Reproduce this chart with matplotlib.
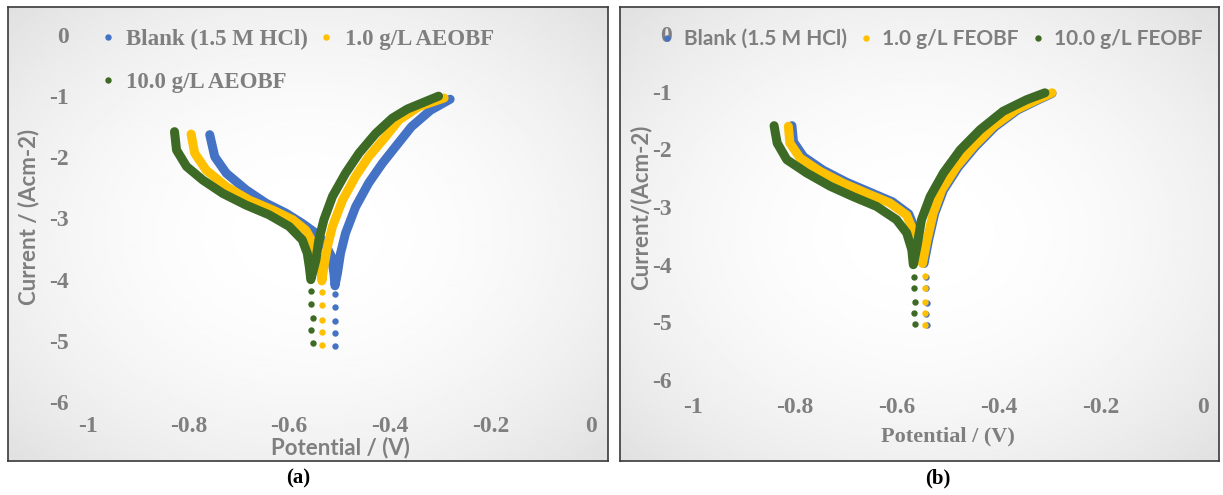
import numpy as np
import matplotlib
matplotlib.use('Agg')
from matplotlib import pyplot as plt

# Tafel data: E (V) and log current
# panel (a): AEOBF
a_blank_E = [-0.758, -0.748, -0.725, -0.686, -0.646, -0.607, -0.574, -0.547, -0.531, -0.516, -0.511, -0.509,
             -0.504, -0.498, -0.488, -0.468, -0.442, -0.415, -0.389, -0.357, -0.319, -0.280]
a_blank_I = [-1.63, -1.99, -2.26, -2.53, -2.75, -2.91, -3.08, -3.24, -3.38, -3.62, -3.90, -4.10,
             -3.89, -3.57, -3.24, -2.81, -2.42, -2.10, -1.83, -1.50, -1.23, -1.05]
a_blank_dotE = [-0.509, -0.509, -0.508, -0.508, -0.509]
a_blank_dotI = [-4.23, -4.44, -4.67, -4.87, -5.08]

a_low_E = [-0.795, -0.788, -0.765, -0.725, -0.679, -0.633, -0.593, -0.567, -0.554, -0.547, -0.537, -0.535,
           -0.531, -0.524, -0.514, -0.494, -0.468, -0.442, -0.408, -0.382, -0.342, -0.292]
a_low_I = [-1.62, -1.93, -2.21, -2.48, -2.70, -2.86, -3.02, -3.19, -3.38, -3.57, -3.79, -4.02,
           -3.79, -3.46, -3.13, -2.70, -2.31, -1.99, -1.66, -1.39, -1.17, -1.03]
a_low_dotE = [-0.535, -0.535, -0.534, -0.534, -0.534]
a_low_dotI = [-4.20, -4.41, -4.66, -4.85, -5.06]

a_high_E = [-0.828, -0.824, -0.804, -0.772, -0.732, -0.686, -0.640, -0.600, -0.574, -0.564, -0.560, -0.557,
            -0.547, -0.541, -0.531, -0.514, -0.488, -0.461, -0.428, -0.395, -0.365, -0.303]
a_high_I = [-1.58, -1.88, -2.15, -2.37, -2.59, -2.78, -2.94, -3.13, -3.35, -3.57, -3.79, -4.00,
            -3.68, -3.35, -3.02, -2.64, -2.26, -1.93, -1.61, -1.36, -1.21, -1.00]
a_high_dotE = [-0.556, -0.557, -0.553, -0.556, -0.553]
a_high_dotI = [-4.18, -4.39, -4.63, -4.83, -5.04]

# panel (b): FEOBF
b_blank_E = [-0.806, -0.803, -0.783, -0.745, -0.699, -0.654, -0.609, -0.577, -0.565, -0.556, -0.547,
             -0.538, -0.526, -0.509, -0.480, -0.447, -0.408, -0.364, -0.325, -0.296]
b_blank_I = [-1.59, -1.87, -2.13, -2.36, -2.57, -2.74, -2.91, -3.12, -3.38, -3.68, -3.98,
             -3.57, -3.11, -2.71, -2.31, -1.96, -1.61, -1.32, -1.15, -1.03]
b_blank_dotE = [-0.543, -0.543, -0.542, -0.543, -0.542]
b_blank_dotI = [-4.21, -4.41, -4.66, -4.85, -5.05]

b_low_E = [-0.813, -0.810, -0.790, -0.751, -0.705, -0.660, -0.614, -0.581, -0.569, -0.559, -0.550,
           -0.541, -0.529, -0.512, -0.483, -0.450, -0.411, -0.366, -0.326, -0.296]
b_low_I = [-1.60, -1.89, -2.15, -2.38, -2.59, -2.76, -2.93, -3.14, -3.40, -3.69, -3.98,
           -3.57, -3.11, -2.70, -2.30, -1.95, -1.60, -1.31, -1.14, -1.02]
b_low_dotE = [-0.546, -0.546, -0.545, -0.546, -0.545]
b_low_dotI = [-4.20, -4.40, -4.65, -4.84, -5.04]

b_high_E = [-0.841, -0.835, -0.816, -0.777, -0.731, -0.686, -0.640, -0.601, -0.581, -0.571, -0.568,
            -0.561, -0.552, -0.535, -0.509, -0.476, -0.437, -0.392, -0.346, -0.310]
b_high_I = [-1.59, -1.89, -2.18, -2.41, -2.64, -2.82, -2.99, -3.22, -3.45, -3.74, -4.00,
            -3.69, -3.22, -2.82, -2.41, -2.01, -1.66, -1.34, -1.14, -1.02]
b_high_dotE = [-0.566, -0.566, -0.565, -0.566, -0.565]
b_high_dotI = [-4.21, -4.40, -4.65, -4.84, -5.03]

x_ticks = [-1, -0.8, -0.6, -0.4, -0.2, 0]
x_ticklabels = ['-1', '-0.8', '-0.6', '-0.4', '-0.2', '0']
y_ticks = [0, -1, -2, -3, -4, -5, -6]
y_ticklabels = ['0', '-1', '-2', '-3', '-4', '-5', '-6']

BLUE = '#4472C4'
GOLD = '#FFC000'
GREEN = '#3D6A24'
GREY = '#7F7F7F'
SERIF = 'Liberation Serif'
SANS = 'Lato'

W, H = 1223, 495
fig = plt.figure(figsize=(W / 100, H / 100), dpi=100)


def px_rect(x0, y0, x1, y1):
    # pixel box (top-left origin) -> figure fraction
    return [x0 / W, 1 - y1 / H, (x1 - x0) / W, (y1 - y0) / H]


def frame(x0, y0, x1, y1):
    bg = fig.add_axes(px_rect(x0, y0, x1, y1), zorder=0)
    yy, xx = np.mgrid[-1:1:200j, -1:1:300j]
    r2 = xx ** 2 + yy ** 2
    shade = 1 - 0.06 * r2
    bg.imshow(shade, cmap='gray', vmin=0, vmax=1, aspect='auto', extent=[0, 1, 0, 1])
    bg.set_xticks([])
    bg.set_yticks([])
    for s in bg.spines.values():
        s.set_color('#3A3A3A')
        s.set_linewidth(1.2)


def panel(box, series, xpad, ypad):
    ax = fig.add_axes(px_rect(*box), zorder=1)
    ax.set_facecolor('none')
    handles = []
    for E, I, dE, dI, c, lab in series:
        ax.plot(E, I, color=c, lw=6.5, solid_capstyle='round', solid_joinstyle='round')
        h, = ax.plot(dE, dI, ls='none', marker='o', ms=4.6, color=c, mec='none', label=lab)
        handles.append(h)
    ax.set_xlim(-1, 0)
    ax.set_ylim(-6, 0)
    ax.set_xticks(x_ticks, x_ticklabels)
    ax.set_yticks(y_ticks, y_ticklabels)
    ax.tick_params(length=0, colors=GREY)
    ax.tick_params(axis='x', pad=xpad)
    ax.tick_params(axis='y', pad=ypad)
    for t in ax.get_xticklabels() + ax.get_yticklabels():
        t.set_fontfamily(SERIF)
        t.set_fontweight('bold')
        t.set_fontsize(17)
    for s in ax.spines.values():
        s.set_visible(False)
    return ax, handles


frame(8, 7, 608, 461)
frame(620, 7, 1219, 461)

ax_a, hand_a = panel((88, 35, 591, 402),
                     [(a_blank_E, a_blank_I, a_blank_dotE, a_blank_dotI, BLUE, 'Blank (1.5 M HCl)'),
                      (a_low_E, a_low_I, a_low_dotE, a_low_dotI, GOLD, '1.0 g/L AEOBF'),
                      (a_high_E, a_high_I, a_high_dotE, a_high_dotI, GREEN, '10.0 g/L AEOBF')],
                     xpad=10, ypad=14)
ax_b, hand_b = panel((693, 34, 1203, 380),
                     [(b_blank_E, b_blank_I, b_blank_dotE, b_blank_dotI, BLUE, 'Blank (1.5 M HCl)'),
                      (b_low_E, b_low_I, b_low_dotE, b_low_dotI, GOLD, '1.0 g/L FEOBF'),
                      (b_high_E, b_high_I, b_high_dotE, b_high_dotI, GREEN, '10.0 g/L FEOBF')],
                     xpad=12, ypad=15)

# axis titles
fig.text(29 / W, 1 - 217 / H, 'Current / (Acm-2)', rotation=90, ha='center', va='center',
         fontfamily=SANS, fontweight='bold', fontsize=16, color=GREY)
fig.text(340 / W, 1 - 448 / H, 'Potential / (V)', ha='center', va='center',
         fontfamily=SANS, fontweight='bold', fontsize=16, color=GREY)
fig.text(641 / W, 1 - 207 / H, 'Current/(Acm-2)', rotation=90, ha='center', va='center',
         fontfamily=SANS, fontweight='bold', fontsize=16, color=GREY)
fig.text(948 / W, 1 - 436 / H, 'Potential / (V)', ha='center', va='center',
         fontfamily=SERIF, fontweight='bold', fontsize=16, color=GREY)

# legends (excel wraps the third entry of (a) onto a second row)
leg_a = ax_a.legend([hand_a[0], hand_a[2], hand_a[1]],
                    [h.get_label() for h in (hand_a[0], hand_a[2], hand_a[1])],
                    loc='upper left', bbox_to_anchor=(101 / W, 1 - 29 / H), bbox_transform=fig.transFigure,
                    ncol=2, frameon=False, handlelength=0.6, handletextpad=0.5, columnspacing=0.5,
                    labelspacing=0.95, borderpad=0, borderaxespad=0,
                    prop={'family': SERIF, 'weight': 'bold', 'size': 16.5})
for t in leg_a.get_texts():
    t.set_color(GREY)

leg_b = ax_b.legend(loc='upper left', bbox_to_anchor=(661 / W, 1 - 29 / H), bbox_transform=fig.transFigure,
                    ncol=3, frameon=False, handlelength=0.6, handletextpad=0.5, columnspacing=0.6,
                    borderpad=0, borderaxespad=0,
                    prop={'family': SANS, 'weight': 'bold', 'size': 15})
for t in leg_b.get_texts():
    t.set_color(GREY)

# captions
fig.text(298 / W, 1 - 478 / H, '(a)', ha='center', va='center', fontfamily=SERIF,
         fontweight='bold', fontsize=15, color='black')
fig.text(938 / W, 1 - 478 / H, '(b)', ha='center', va='center', fontfamily=SERIF,
         fontweight='bold', fontsize=15, color='black')

fig.savefig('out.png', dpi=100, facecolor='white')
